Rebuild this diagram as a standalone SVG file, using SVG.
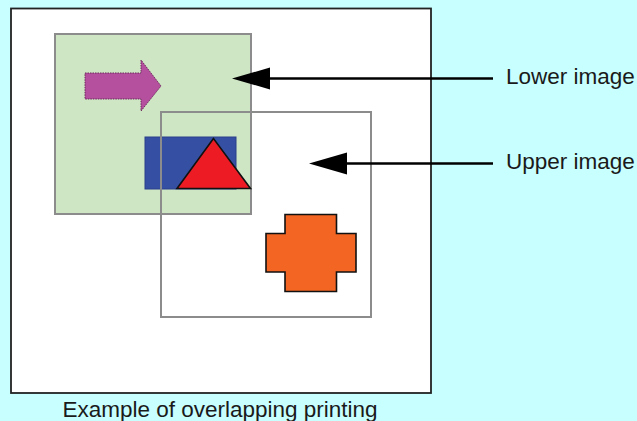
<svg xmlns="http://www.w3.org/2000/svg" width="637" height="421" viewBox="0 0 637 421">
<style>
text{font-family:"Liberation Sans",Arial,sans-serif;font-size:22.5px;fill:#1a1a1a}
.frame{fill:none;stroke:#8c8c8c;stroke-width:2}
.conn{stroke:#000;stroke-width:2.6;fill:none}
</style>
<defs>
<marker id="ah" markerUnits="userSpaceOnUse" markerWidth="40" markerHeight="24" refX="2" refY="11" orient="auto" viewBox="0 0 40 22">
<path d="M38,11 L0,0 L0,22 Z" fill="#000"/>
</marker>
</defs>
<rect width="637" height="421" fill="#c8ffff"/>
<g id="paper">
<rect x="11" y="8.5" width="420" height="384.5" fill="#fff" stroke="#222" stroke-width="1.8"/>
</g>
<g id="lower-image">
<rect x="55" y="34" width="196" height="180" fill="#cfe6c5" stroke="#8c8c8c" stroke-width="2"/>
<polygon points="85,73 141,73 141,60 161,86 141,111 141,99 85,99" fill="#b5509f" stroke="#6a2a5a" stroke-width="1" stroke-dasharray="1.5,1"/>
<rect x="145" y="137" width="91" height="52" fill="#3550a2" stroke="#2a3f8a" stroke-width="1"/>
<polygon points="213.5,138.5 177,188.5 250.5,188.5" fill="#ed1c24" stroke="#111" stroke-width="1.6"/>
</g>
<g id="upper-image">
<rect x="161" y="112" width="210" height="205" class="frame"/>
<polygon points="285,214.5 336.5,214.5 336.5,233.5 356,233.5 356,272 336.5,272 336.5,291.5 285,291.5 285,272 266,272 266,233.5 285,233.5" fill="#f26522" stroke="#111" stroke-width="1.6"/>
</g>
<g id="connectors">
<line x1="493" y1="78.5" x2="268" y2="78.5" class="conn" marker-end="url(#ah)"/>
<line x1="493" y1="163.5" x2="345" y2="163.5" class="conn" marker-end="url(#ah)"/>
</g>
<g id="label-lower"><text x="506" y="83.5">Lower image</text></g>
<g id="label-upper"><text x="506" y="169">Upper image</text></g>
<g id="caption"><text x="220" y="416.5" text-anchor="middle">Example of overlapping printing</text></g>
</svg>
